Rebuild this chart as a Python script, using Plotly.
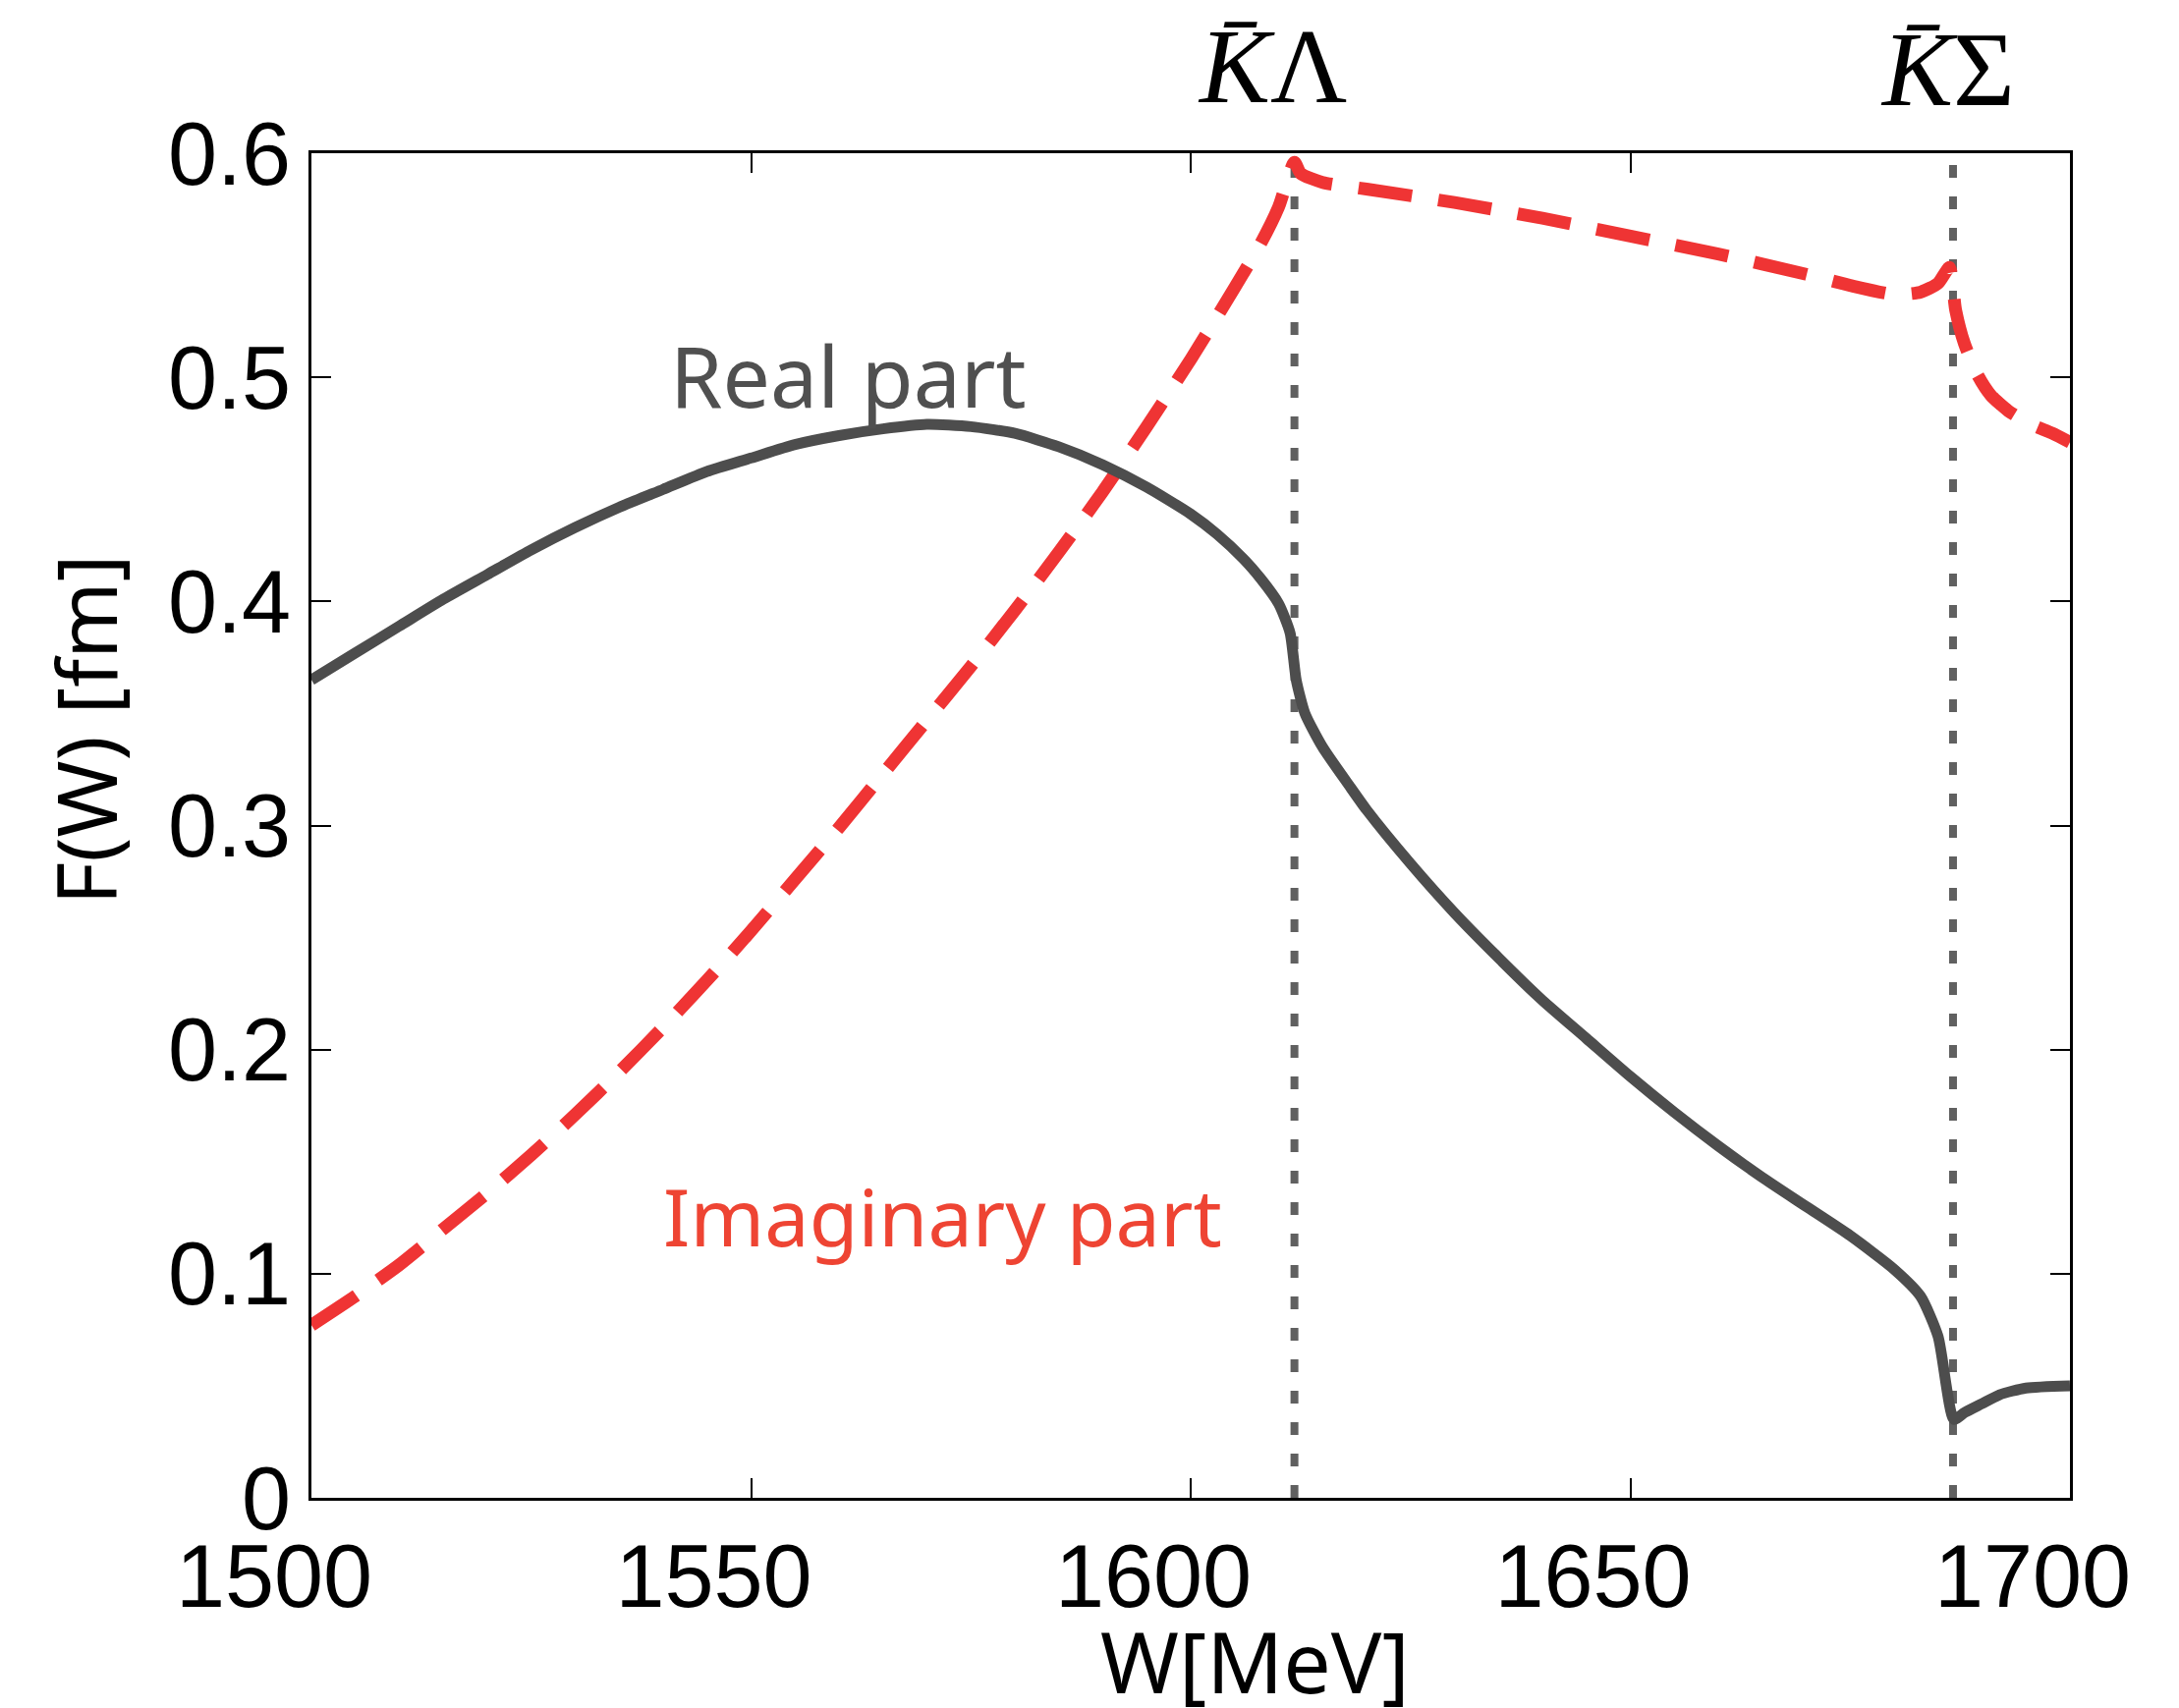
import plotly.graph_objects as go

# ---- data ----
W_re = [1500, 1505, 1510, 1515, 1520, 1525, 1530, 1535, 1540, 1545, 1550, 1555, 1560,
        1565, 1570, 1575, 1580, 1585, 1590, 1595, 1600, 1603, 1606, 1608, 1610, 1611.3,
        1612.0, 1613, 1615, 1618, 1620, 1625, 1630, 1635, 1640, 1645, 1650, 1655, 1660,
        1665, 1670, 1675, 1680, 1683, 1685, 1686.8, 1688, 1690, 1692, 1695, 1700]
F_re = [0.365, 0.377, 0.389, 0.401, 0.412, 0.423, 0.433, 0.442, 0.450, 0.458, 0.464, 0.470, 0.474,
        0.477, 0.479, 0.478, 0.475, 0.469, 0.461, 0.451, 0.439, 0.430, 0.419, 0.410, 0.399, 0.386,
        0.365, 0.350, 0.335, 0.318, 0.307, 0.283, 0.261, 0.241, 0.222, 0.205, 0.188, 0.172, 0.157,
        0.143, 0.130, 0.117, 0.102, 0.090, 0.072, 0.035, 0.038, 0.042, 0.046, 0.049, 0.050]

W_im = [1500, 1505, 1510, 1515, 1520, 1525, 1530, 1535, 1540, 1545, 1550, 1555, 1560,
        1565, 1570, 1575, 1580, 1585, 1590, 1595, 1600, 1605, 1608, 1610, 1611.8,
        1612.5, 1615, 1620, 1630, 1640, 1650, 1660, 1670, 1675, 1680, 1683, 1685, 1686.3,
        1687, 1688, 1689.5, 1691, 1693, 1695.6, 1698, 1700]
F_im = [0.077, 0.090, 0.104, 0.120, 0.136, 0.153, 0.171, 0.190, 0.210, 0.231, 0.253, 0.276, 0.299,
        0.323, 0.347, 0.371, 0.396, 0.422, 0.449, 0.478, 0.508, 0.540, 0.560, 0.576, 0.596,
        0.591, 0.587, 0.584, 0.578, 0.571, 0.563, 0.555, 0.546, 0.541, 0.537, 0.538, 0.542, 0.549,
        0.530, 0.515, 0.501, 0.492, 0.485, 0.479, 0.475, 0.471]

thresholds = [1611.8, 1686.7]
threshold_labels = ["<i>K̄</i>Λ", "<i>K̄</i>Σ"]
x_ticks = [1500, 1550, 1600, 1650, 1700]
y_ticks = [0, 0.1, 0.2, 0.3, 0.4, 0.5, 0.6]
y_tick_text = ["0", "0.1", "0.2", "0.3", "0.4", "0.5", "0.6"]

fig = go.Figure()

for th in thresholds:
    fig.add_trace(go.Scatter(x=[th, th], y=[0, 0.6], mode="lines",
                             line=dict(color="#606060", width=8, dash="13px,19px"),
                             showlegend=False, hoverinfo="skip"))

fig.add_trace(go.Scatter(x=W_im, y=F_im, mode="lines", name="Imaginary part",
                         line=dict(color="#EF3434", width=13, dash="55px,27px",
                                   shape="spline", smoothing=0.6),
                         showlegend=False))
fig.add_trace(go.Scatter(x=W_re, y=F_re, mode="lines", name="Real part",
                         line=dict(color="#4D4D4D", width=11, shape="spline", smoothing=0.6),
                         showlegend=False))

axis_common = dict(showline=True, linecolor="black", linewidth=3, mirror="ticks",
                   ticks="inside", ticklen=20, tickwidth=2, tickcolor="black",
                   showgrid=False, zeroline=False,
                   tickfont=dict(family="Liberation Sans, Arial, sans-serif", size=90, color="black"))

fig.update_xaxes(range=[1500, 1700], tickvals=x_ticks, ticktext=[str(v) for v in x_ticks],
                 ticklabelshift=-38, **axis_common)
fig.update_yaxes(range=[0, 0.6], tickvals=y_ticks, ticktext=y_tick_text, **axis_common)

label_font = "Noto Sans, Liberation Sans, sans-serif"
ann = [
    dict(x=1561.1, y=0.5013, text="Real part", font=dict(family=label_font, size=86, color="#505050")),
    dict(x=1571.8, y=0.1259, text="Imaginary part", font=dict(family=label_font, size=81, color="#EE4433")),
]
for a in ann:
    fig.add_annotation(xref="x", yref="y", showarrow=False, xanchor="center", yanchor="middle", **a)

for th_x, th_y, lab in [(1609.3, 1.0643, threshold_labels[0]), (1686.1, 1.0625, threshold_labels[1])]:
    fig.add_annotation(xref="x", yref="paper", x=th_x, y=th_y, text=lab, showarrow=False,
                       xanchor="center", yanchor="middle",
                       font=dict(family="Liberation Serif, Times New Roman, serif", size=108, color="black"))

fig.add_annotation(xref="paper", yref="paper", x=-0.129, y=0.571, text="F(W) [fm]", textangle=-90,
                   showarrow=False, xanchor="center", yanchor="middle",
                   font=dict(family=label_font, size=84, color="black"))
fig.add_annotation(xref="paper", yref="paper", x=0.5366, y=-0.121, text="W[MeV]",
                   showarrow=False, xanchor="center", yanchor="middle",
                   font=dict(family=label_font, size=86, color="black"))

fig.update_layout(width=2218, height=1739, margin=dict(l=317, r=111, t=156, b=214),
                  paper_bgcolor="white", plot_bgcolor="white")

fig.write_html("out.html")
